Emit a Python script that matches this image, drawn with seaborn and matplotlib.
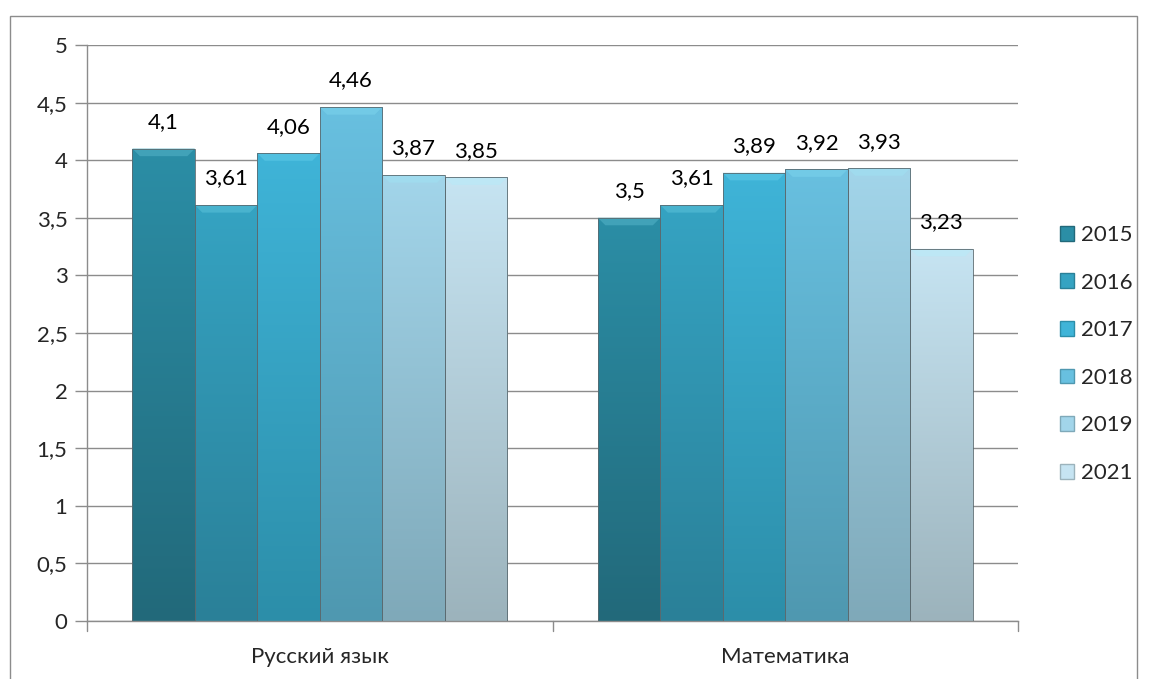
import numpy as np
import pandas as pd
import matplotlib
matplotlib.use("Agg")
import matplotlib.pyplot as plt
import seaborn as sns
from matplotlib.colors import LinearSegmentedColormap, to_rgb
from matplotlib.patches import Rectangle, Patch, Polygon

# data
subjects = ["Русский язык", "Математика"]
years = ["2015", "2016", "2017", "2018", "2019", "2021"]
russian = [4.1, 3.61, 4.06, 4.46, 3.87, 3.85]
math = [3.5, 3.61, 3.89, 3.92, 3.93, 3.23]

# top / bottom colours of each year's gradient
top_colors = ["#2b8ea6", "#35a3c2", "#3fb4d8", "#68c0e0", "#a2d5ea", "#c6e4f2"]
bottom_colors = ["#22697a", "#2a8098", "#2c8ea9", "#4f98b0", "#7fa9b9", "#9cb3bc"]

df = pd.DataFrame({
    "subject": np.repeat(subjects, len(years)),
    "year": years * len(subjects),
    "score": russian + math,
})

sns.set_theme(style="white")
plt.rcParams["font.family"] = ["Lato", "DejaVu Sans"]
FS = 16

fig = plt.figure(figsize=(11.5, 6.79), dpi=100)
ax = fig.add_axes([87 / 1150, 1 - 621 / 679, (1018 - 87) / 1150, (621 - 45) / 679])

sns.barplot(data=df, x="subject", y="score", hue="year", palette=top_colors,
            width=0.805, gap=0, legend=False, ax=ax, saturation=1)

# gradient fill on every bar, with a light bevel at the top
for i, cont in enumerate(ax.containers):
    cmap = LinearSegmentedColormap.from_list("g", [bottom_colors[i], top_colors[i]])
    top_rgb = np.array(to_rgb(top_colors[i]))
    light = tuple(0.8 * top_rgb + 0.2 * np.array([0.6, 0.95, 1.0]))
    for bar in cont:
        x0, y0 = bar.get_x(), bar.get_y()
        w, h = bar.get_width(), bar.get_height()
        grad = np.linspace(0, 1, 256).reshape(-1, 1)
        im = ax.imshow(grad, extent=[x0, x0 + w, y0, y0 + h], origin="lower",
                       cmap=cmap, aspect="auto", zorder=2)
        im.set_clip_path(bar)
        bh = 0.065
        bw = w * 0.12
        top = y0 + h
        ax.add_patch(Polygon([[x0, top], [x0 + w, top], [x0 + w - bw, top - bh], [x0 + bw, top - bh]],
                             closed=True, facecolor=light, edgecolor="none", zorder=2.5))
        bar.set_edgecolor("#5a6a70")
        bar.set_linewidth(0.6)
        bar.set_zorder(3)
        bar.set_facecolor("none")
    labels = [f"{v:g}".replace(".", ",") for v in cont.datavalues]
    ax.bar_label(cont, labels=labels, padding=12, fontsize=FS, color="black")

ax.set_xlim(-0.5, 1.5)
ax.set_ylim(0, 5)
ax.set_yticks(np.arange(0, 5.01, 0.5))
ax.set_yticklabels([f"{t:g}".replace(".", ",") for t in np.arange(0, 5.01, 0.5)], fontsize=FS)
ax.tick_params(axis="y", length=9, color="#8c8c8c", width=1, pad=5, left=True)
ax.tick_params(axis="x", length=0, labelsize=FS, pad=19)
ax.set_xlabel("")
ax.set_ylabel("")
ax.yaxis.grid(True, color="#8c8c8c", linewidth=1)
ax.set_axisbelow(True)
for s in ["top", "right"]:
    ax.spines[s].set_visible(False)
for s in ["left", "bottom"]:
    ax.spines[s].set_color("#8c8c8c")
    ax.spines[s].set_linewidth(1)

# category boundary ticks on the x axis
for xb in [-0.5, 0.5, 1.5]:
    ax.plot([xb, xb], [0, -0.09], color="#8c8c8c", lw=1, clip_on=False)

# legend
handles = [Patch(facecolor=top_colors[i], edgecolor=bottom_colors[i]) for i in range(len(years))]
fig.legend(handles, years, loc="center left", bbox_to_anchor=(1040 / 1150, 1 - 354 / 679),
           frameon=False, fontsize=FS, handlelength=0.65, handleheight=0.65,
           handletextpad=0.3, labelspacing=1.24)

# outer chart border
fig.add_artist(Rectangle((10 / 1150, -0.01), (1137 - 10) / 1150, 1 - 16 / 679 + 0.01,
                         transform=fig.transFigure, fill=False, edgecolor="#8c8c8c", lw=1))

fig.savefig("out.png", dpi=100)
